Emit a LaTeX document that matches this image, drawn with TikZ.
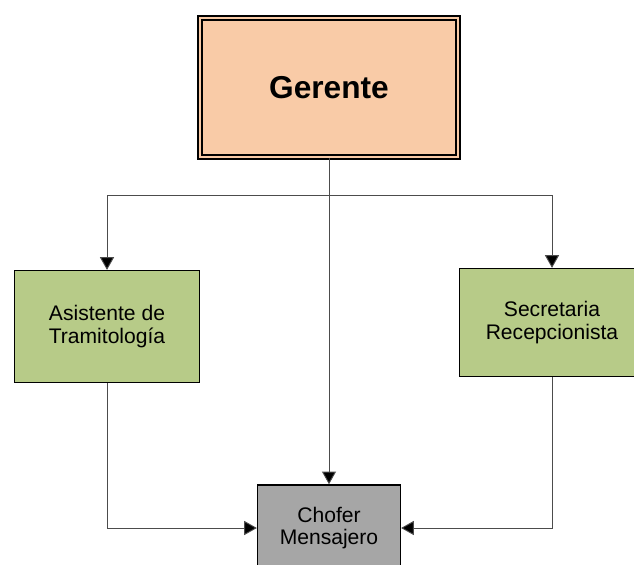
\documentclass[tikz,border=0pt]{standalone}
\usepackage{fontspec}
\setmainfont{Liberation Sans}
\usetikzlibrary{arrows.meta}
\definecolor{jefe}{RGB}{249,203,167}
\definecolor{staff}{RGB}{183,203,136}
\definecolor{chof}{RGB}{166,166,166}

\begin{document}
\begin{tikzpicture}[x=0.03cm, y=-0.03cm,
    box/.style={rectangle, draw, line width=1.3pt, align=center, inner sep=0pt, font=\fontsize{18}{19.5}\selectfont},
    bossbox/.style={rectangle, draw, double=jefe, line width=1.5pt, double distance=1.8pt, fill=jefe, minimum width=7.74cm, minimum height=4.17cm, font=\fontsize{27}{30}\selectfont\bfseries},
    link/.style={draw=black!70, line width=0.8pt, -{Triangle[length=0.38cm, width=0.42cm, fill=black]}}
]
    \useasboundingbox (0,0) rectangle (634,565);
    \clip (0,0) rectangle (634,565);

    % Top box
    \node[bossbox] (ger) at (329, 87.5) {Gerente};

    % Second row
    \node[box, fill=staff, minimum width=5.54cm, minimum height=3.35cm] (asis) at (107, 326.5) {Asistente de\\Tramitología};
    \node[box, fill=staff, minimum width=5.54cm, minimum height=3.23cm] (secr) at (552, 322.5) {Secretaria\\Recepcionista};

    % Bottom box
    \node[box, fill=chof, minimum width=4.28cm, minimum height=2.58cm] (chofer) at (329, 528) {Chofer\\Mensajero};

    % Connectors
    \coordinate (split) at (329, 195);
    \draw[link] (ger.south) -- (chofer.north);
    \draw[link] (split) -| (asis.north);
    \draw[link] (split) -| (secr.north);
    \draw[link] (asis.south) |- (chofer.west);
    \draw[link] (secr.south) |- (chofer.east);
\end{tikzpicture}
\end{document}
